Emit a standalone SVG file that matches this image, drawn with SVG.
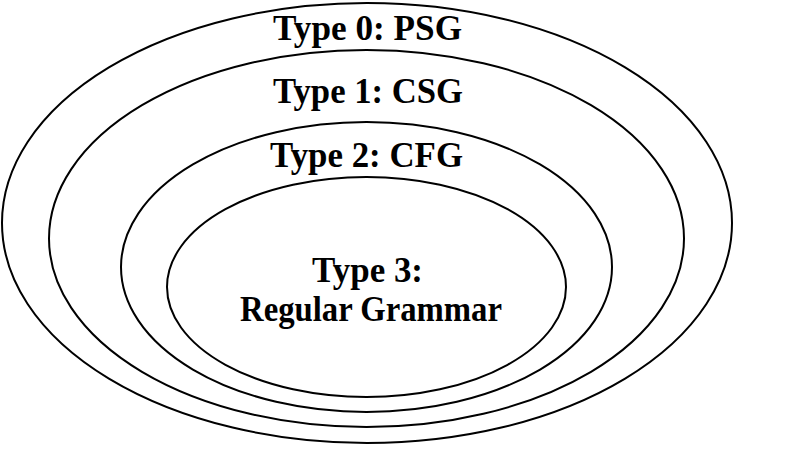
<svg xmlns="http://www.w3.org/2000/svg" width="800" height="449" viewBox="0 0 800 449">
<style>
.ring{fill:none;stroke:#000;stroke-width:2}
.lbl{font-family:"Liberation Serif","Times New Roman",serif;font-weight:bold;font-size:36px;fill:#000;text-anchor:middle}
</style>
<rect width="800" height="449" fill="#fff"/>
<g id="type0">
<ellipse class="ring" cx="367" cy="223" rx="365" ry="220"/>
<text class="lbl" x="367.5" y="40" textLength="189" lengthAdjust="spacingAndGlyphs">Type 0: PSG</text>
</g>
<g id="type1">
<ellipse class="ring" cx="366.5" cy="238.5" rx="317.5" ry="188.5"/>
<text class="lbl" x="368" y="103" textLength="190" lengthAdjust="spacingAndGlyphs">Type 1: CSG</text>
</g>
<g id="type2">
<ellipse class="ring" cx="366.5" cy="267" rx="245.5" ry="145"/>
<text class="lbl" x="366.5" y="167" textLength="193" lengthAdjust="spacingAndGlyphs">Type 2: CFG</text>
</g>
<g id="type3">
<ellipse class="ring" cx="366.5" cy="287" rx="199.5" ry="110"/>
<text class="lbl" x="367.5" y="282" textLength="111" lengthAdjust="spacingAndGlyphs">Type 3:</text>
<text class="lbl" x="371" y="321" textLength="262" lengthAdjust="spacingAndGlyphs">Regular Grammar</text>
</g>
<g id="connectors"/>
</svg>
